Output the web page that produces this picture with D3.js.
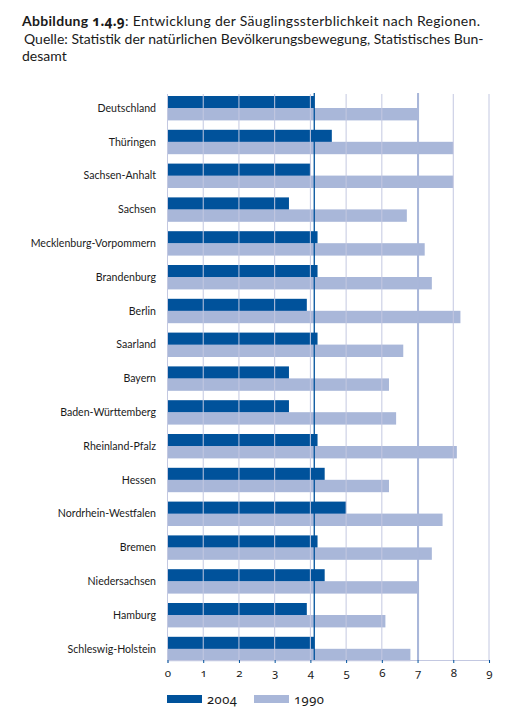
<!DOCTYPE html>
<meta charset="utf-8">
<style>
  body { margin: 0; background: #fff; }
  svg text { font-family: Lato, "Noto Sans", sans-serif; fill: #1a1a1a; }
  .title { font-size: 14px; }
  .title .bold { font-weight: bold; }
  .cat { font-size: 10.6px; }
  .num { font-family: "Noto Sans", sans-serif; font-size: 11.5px; font-variant-numeric: oldstyle-nums; font-feature-settings: "onum" 1; }
</style>
<body>
<svg width="513" height="721"></svg>
<script src="https://d3js.org/d3.v7.min.js"></script>
<script>
  // data
  var regions = ["Deutschland", "Thüringen", "Sachsen-Anhalt", "Sachsen", "Mecklenburg-Vorpommern",
                 "Brandenburg", "Berlin", "Saarland", "Bayern", "Baden-Württemberg", "Rheinland-Pfalz",
                 "Hessen", "Nordrhein-Westfalen", "Bremen", "Niedersachsen", "Hamburg", "Schleswig-Holstein"];
  var years = ["2004", "1990"];
  var values2004 = [4.1, 4.6, 4.0, 3.4, 4.2, 4.2, 3.9, 4.2, 3.4, 3.4, 4.2, 4.4, 5.0, 4.2, 4.4, 3.9, 4.1];
  var values1990 = [7.0, 8.0, 8.0, 6.7, 7.2, 7.4, 8.2, 6.6, 6.2, 6.4, 8.1, 6.2, 7.7, 7.4, 7.0, 6.1, 6.8];
  var xTicks = [0, 1, 2, 3, 4, 5, 6, 7, 8, 9];
  var colors = { "2004": "#00529b", "1990": "#a9b7d9" };
  var gridColor = "#c3c8e1";

  var svg = d3.select("svg");

  /* Title */
  var title = svg.append("text").attr("class", "title");
  var t1 = title.append("tspan").attr("x", 22).attr("y", 26).style("letter-spacing", "0.3px");
  t1.append("tspan").attr("class", "bold").text("Abbildung ")
    .append("tspan").attr("class", "num").style("font-size", "13.6px").text("1.4.9");
  t1.append("tspan").text(": Entwicklung der Säuglingssterblichkeit nach Regionen.");
  title.append("tspan").attr("x", 24).attr("y", 44)
    .text("Quelle: Statistik der natürlichen Bevölkerungsbewegung, Statistisches Bun-");
  title.append("tspan").attr("x", 22).attr("y", 61).text("desamt");

  /* Scales */
  var x = d3.scaleLinear().domain([0, 9]).range([167.5, 489]);
  var y = d3.scaleBand().domain(regions).range([96, 660.8]).paddingInner(0.29).paddingOuter(0);
  var ySub = d3.scaleBand().domain(years).range([0, y.bandwidth()]);

  var rows = regions.map(function(r, i) {
    return { region: r, "2004": values2004[i], "1990": values1990[i] };
  });

  /* Bars */
  var groups = svg.append("g").selectAll("g")
    .data(rows)
    .enter().append("g")
      .attr("transform", function(d) { return "translate(0," + y(d.region) + ")"; });

  groups.selectAll("rect")
    .data(function(d) { return years.map(function(k) { return { key: k, value: d[k] }; }); })
    .enter().append("rect")
      .attr("x", x(0))
      .attr("y", function(d) { return ySub(d.key); })
      .attr("width", function(d) { return x(d.value) - x(0); })
      .attr("height", ySub.bandwidth() + 0.4)
      .attr("fill", function(d) { return colors[d.key]; });

  /* Category labels */
  svg.append("g").selectAll("text")
    .data(regions)
    .enter().append("text")
      .attr("class", "cat")
      .attr("x", 156)
      .attr("y", function(d) { return y(d) + y.bandwidth() / 2; })
      .attr("dy", "0.35em")
      .attr("text-anchor", "end")
      .text(function(d) { return d; });

  /* Grid lines (over bars) */
  svg.append("g").selectAll("line")
    .data(xTicks)
    .enter().append("line")
      .attr("x1", function(d) { return x(d); })
      .attr("x2", function(d) { return x(d); })
      .attr("y1", 94)
      .attr("y2", 660)
      .attr("stroke", gridColor)
      .attr("stroke-width", 1);

  /* Reference lines: Deutschland values */
  svg.append("line")
    .attr("x1", x(values1990[0]) + 0.5).attr("x2", x(values1990[0]) + 0.5)
    .attr("y1", 93).attr("y2", 660)
    .attr("stroke", colors["1990"]).attr("stroke-width", 2);
  svg.append("line")
    .attr("x1", x(values2004[0]) + 0.3).attr("x2", x(values2004[0]) + 0.3)
    .attr("y1", 93).attr("y2", 660)
    .attr("stroke", colors["2004"]).attr("stroke-width", 1.3);

  /* Axis */
  var axis = svg.append("g")
    .attr("transform", "translate(0,660)")
    .call(d3.axisBottom(x).tickValues(xTicks).tickSize(3).tickPadding(6).tickFormat(d3.format("d")));
  axis.select(".domain").attr("stroke", gridColor).attr("stroke-width", 1.2);
  axis.selectAll(".tick line").attr("stroke", "#00529b");
  axis.selectAll(".tick text").attr("class", "num").style("font-family", "'Noto Sans', sans-serif")
    .attr("fill", "#1a1a1a");

  /* Legend */
  var legend = svg.append("g").attr("transform", "translate(167,695)");
  var legendX = [0, 87];
  years.forEach(function(k, i) {
    legend.append("rect")
      .attr("x", legendX[i]).attr("y", 0)
      .attr("width", 35).attr("height", 8)
      .attr("fill", colors[k]);
    legend.append("text")
      .attr("class", "num")
      .style("font-size", "13px")
      .style("letter-spacing", "0.5px")
      .attr("x", legendX[i] + 40).attr("y", 4)
      .attr("dy", "0.4em")
      .text(k);
  });
</script>
</body>
